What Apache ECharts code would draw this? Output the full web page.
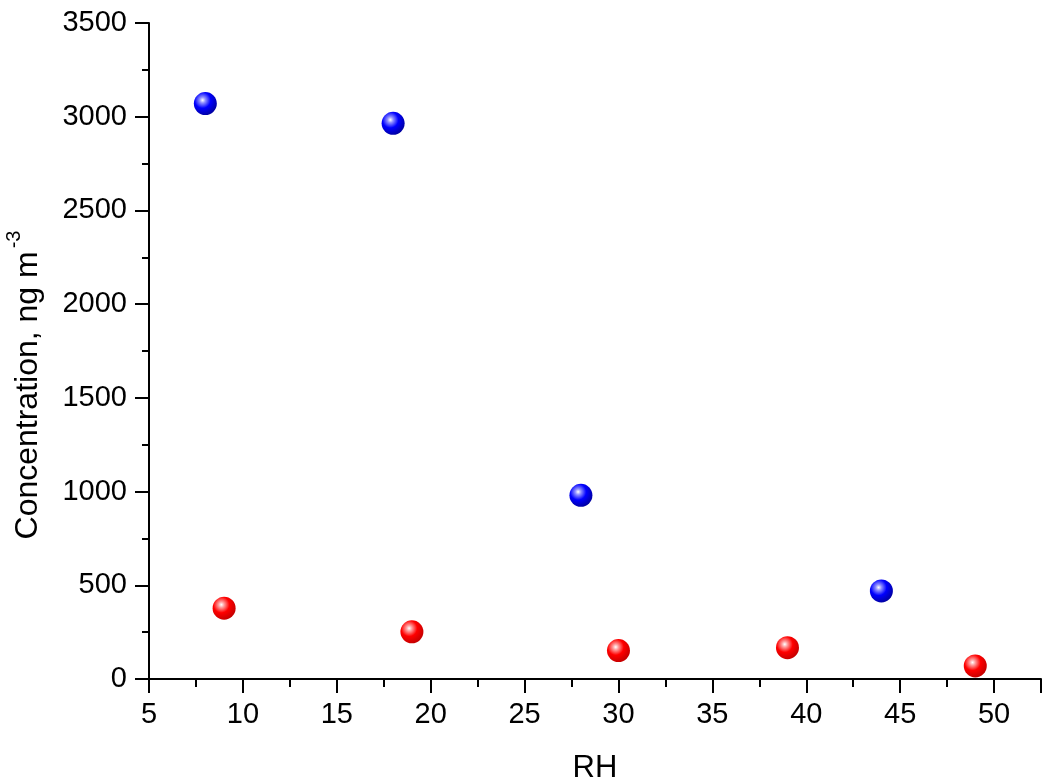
<!DOCTYPE html>
<html><head><meta charset="utf-8">
<script src="https://cdn.jsdelivr.net/npm/echarts@6/dist/echarts.min.js"></script>
<style>html,body{margin:0;padding:0;background:#fff}#c{width:1044px;height:784px}</style>
</head><body><div id="c"></div>
<script>
var blueRH = [8, 18, 28, 44];
var blueConc = [3070, 2965, 980, 470];
var redRH = [9, 19, 30, 39, 49];
var redConc = [378, 252, 152, 167, 70];
var xTitle = 'RH';
var yTitle = 'Concentration, ng m';
var ySup = '-3';

function sphere(base, dark) {
  return {type:'radial', x:0.38, y:0.35, r:0.7, colorStops:[
    {offset:0, color:'#ffffff'},
    {offset:0.18, color:base === 'blue' ? '#8f8fff' : '#ff9a9a'},
    {offset:0.5, color:base === 'blue' ? '#0000ff' : '#ff0000'},
    {offset:1, color:dark}
  ]};
}
function pairs(xs, ys){ return xs.map(function(x,i){return [x, ys[i]];}); }

var FF = 'Liberation Sans, Arial, sans-serif';
var chart = echarts.init(document.getElementById('c'));
chart.setOption({
  backgroundColor:'#fff',
  animation:false,
  grid:{left:149, right:3, top:23, bottom:105, containLabel:false, outerBoundsMode:'none'},
  xAxis:{
    type:'value', min:5, max:52.5, interval:5,
    name:xTitle, nameLocation:'middle', nameGap:74,
    nameTextStyle:{fontFamily:FF, fontSize:31, color:'#000'},
    axisLine:{show:true, onZero:false, lineStyle:{color:'#000', width:2}},
    axisTick:{show:true, inside:false, length:14, lineStyle:{color:'#000', width:2}},
    minorTick:{show:true, splitNumber:2, length:8, lineStyle:{color:'#000', width:2}},
    splitLine:{show:false},
    axisLabel:{fontFamily:FF, fontSize:29, color:'#000', margin:21,
      formatter:function(v){return v % 5 === 0 ? String(v) : '';}}
  },
  yAxis:{
    type:'value', min:0, max:3500, interval:500,
    name:'{m|' + yTitle + '}{s|' + ySup + '}', nameLocation:'middle', nameGap:105,
    nameTextStyle:{padding:[0,68,0,0], rich:{
      m:{fontFamily:FF, fontSize:32, color:'#000', verticalAlign:'bottom'},
      s:{fontFamily:FF, fontSize:20, color:'#000', verticalAlign:'top', padding:[0,0,20,3]}
    }},
    axisLine:{show:true, onZero:false, lineStyle:{color:'#000', width:2}},
    axisTick:{show:true, inside:false, length:14, lineStyle:{color:'#000', width:2}},
    minorTick:{show:true, splitNumber:2, length:7, lineStyle:{color:'#000', width:2}},
    splitLine:{show:false},
    axisLabel:{fontFamily:FF, fontSize:29, color:'#000', margin:22,
      formatter:function(v){return String(v);}}
  },
  series:[
    {type:'scatter', symbol:'circle', symbolSize:23, data:pairs(blueRH, blueConc),
     itemStyle:{color:sphere('blue','#00009a'), opacity:1}},
    {type:'scatter', symbol:'circle', symbolSize:23, data:pairs(redRH, redConc),
     itemStyle:{color:sphere('red','#c00000'), opacity:1}}
  ]
});
</script></body></html>
